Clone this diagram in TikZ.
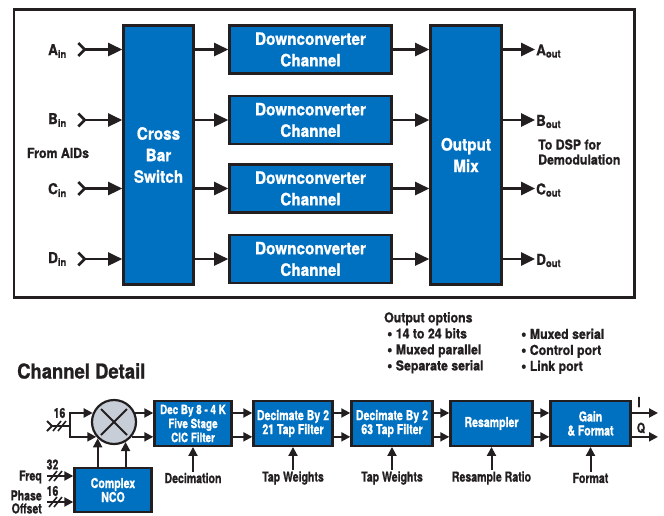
\documentclass[tikz,border=0pt]{standalone}
\usepackage{fontspec}
\setmainfont{TeX Gyre Heros}[FakeStretch=0.9, BoldFeatures={FakeBold=1}]
\newfontfamily\condfont{TeX Gyre Heros}[FakeStretch=0.77, BoldFeatures={FakeBold=1}]
\definecolor{chanblue}{RGB}{0, 112, 192}
\definecolor{inkgray}{RGB}{35, 31, 32}
\definecolor{mixgray}{RGB}{200, 206, 216}
\usetikzlibrary{arrows.meta}
\newcommand{\optbullet}{\smash{\raisebox{-0.1ex}{\fontsize{16.5}{16}\selectfont\textbullet}}\ }

\begin{document}
\begin{tikzpicture}[x=1pt, y=-1pt, inkgray,
  chanbox/.style={draw=inkgray, line width=2.6pt, fill=chanblue, text=white, align=center, inner sep=0pt,
    font=\fontsize{17}{21.5}\selectfont\bfseries},
  detbox/.style={draw=inkgray, line width=2.4pt, fill=chanblue, text=white, align=center, inner sep=0pt,
    minimum height=44.5pt, font=\condfont\fontsize{13.7}{14}\selectfont\bfseries},
  bigarrow/.style={line width=2.6pt, -{Triangle[length=14pt, width=13pt]}},
  smallarrow/.style={line width=2pt, -{Triangle[length=9pt, width=9pt]}},
  chevtail/.style={{Straight Barb[reversed, length=6.5pt, width=13pt]}-{Triangle[length=14pt, width=13pt]}},
  toplabel/.style={inner sep=1pt, font=\fontsize{13.7}{15}\selectfont\bfseries},
  botlabel/.style={inner sep=1pt, font=\condfont\fontsize{13.7}{14}\selectfont\bfseries},
  buslabel/.style={inner sep=0pt, font=\condfont\fontsize{13.7}{14}\selectfont\bfseries},
  busmark/.style={line width=1.6pt}]
  \useasboundingbox (0, 0) rectangle (664, 515);

  % Top: the channel block diagram
  \draw[line width=2.7pt] (14, 9.7) rectangle (634.3, 297.3);
  \node[chanbox, minimum width=70, minimum height=259] (cbs) at (158.5, 155) {Cross\\Bar\\Switch};
  \node[chanbox, minimum width=162, minimum height=48] (dc1) at (310.5, 49.5) {Downconverter\\Channel};
  \node[chanbox, minimum width=162, minimum height=48] (dc2) at (310.5, 120) {Downconverter\\Channel};
  \node[chanbox, minimum width=162, minimum height=48] (dc3) at (310.5, 188.5) {Downconverter\\Channel};
  \node[chanbox, minimum width=162, minimum height=48] (dc4) at (310.5, 259) {Downconverter\\Channel};
  \node[chanbox, minimum width=71, minimum height=259] (mix) at (466, 155) {Output\\Mix};

  \node[toplabel, font=\fontsize{15}{18}\selectfont\bfseries, anchor=east] (ain) at (68, 51) {A\textsubscript{in}};
  \node[toplabel, font=\fontsize{15}{18}\selectfont\bfseries, anchor=east] (bin) at (68, 120) {B\textsubscript{in}};
  \node[toplabel, font=\fontsize{15}{18}\selectfont\bfseries, anchor=east] (cin) at (68, 190) {C\textsubscript{in}};
  \node[toplabel, font=\fontsize{15}{18}\selectfont\bfseries, anchor=east] (din) at (68, 259) {D\textsubscript{in}};
  \node[toplabel] (aids) at (58, 153) {From AIDs};
  \coordinate (ina) at (77, 49.5);
  \coordinate (inb) at (77, 120);
  \coordinate (inc) at (77, 188.5);
  \coordinate (ind) at (77, 259);
  \draw[line width=2.6pt, chevtail] (ina) -- (ina -| cbs.west);
  \draw[line width=2.6pt, chevtail] (inb) -- (inb -| cbs.west);
  \draw[line width=2.6pt, chevtail] (inc) -- (inc -| cbs.west);
  \draw[line width=2.6pt, chevtail] (ind) -- (ind -| cbs.west);

  \draw[bigarrow] (cbs.east |- dc1) -- (dc1);
  \draw[bigarrow] (cbs.east |- dc2) -- (dc2);
  \draw[bigarrow] (cbs.east |- dc3) -- (dc3);
  \draw[bigarrow] (cbs.east |- dc4) -- (dc4);
  \draw[bigarrow] (dc1) -- (mix.west |- dc1);
  \draw[bigarrow] (dc2) -- (mix.west |- dc2);
  \draw[bigarrow] (dc3) -- (mix.west |- dc3);
  \draw[bigarrow] (dc4) -- (mix.west |- dc4);

  \node[toplabel, font=\fontsize{15}{18}\selectfont\bfseries, anchor=west] (aout) at (535, 51) {A\textsubscript{out}};
  \node[toplabel, font=\fontsize{15}{18}\selectfont\bfseries, anchor=west] (bout) at (535, 121.5) {B\textsubscript{out}};
  \node[toplabel, font=\fontsize{15}{18}\selectfont\bfseries, anchor=west] (cout) at (535, 190) {C\textsubscript{out}};
  \node[toplabel, font=\fontsize{15}{18}\selectfont\bfseries, anchor=west] (dout) at (535, 260.5) {D\textsubscript{out}};
  \node[toplabel, anchor=west, align=left] (dsp) at (537, 152) {To DSP for\\Demodulation};
  \draw[bigarrow] (mix.east |- dc1) -- (aout.west |- dc1);
  \draw[bigarrow] (mix.east |- dc2) -- (bout.west |- dc2);
  \draw[bigarrow] (mix.east |- dc3) -- (cout.west |- dc3);
  \draw[bigarrow] (mix.east |- dc4) -- (dout.west |- dc4);

  % Bottom: channel detail
  \node[inner sep=0pt, anchor=west, font=\fontsize{20.5}{24}\selectfont\bfseries] (cdet) at (17, 371) {Channel Detail};
  \node[inner sep=0pt, anchor=north west, align=left, font=\fontsize{13.7}{16}\selectfont\bfseries] (opts) at (384, 312)
    {Output options\\\hspace*{3pt}\optbullet 14 to 24 bits\\\hspace*{3pt}\optbullet Muxed parallel\\\hspace*{3pt}\optbullet Separate serial};
  \node[inner sep=0pt, anchor=north west, align=left, font=\fontsize{13.7}{16}\selectfont\bfseries] (optsb) at (521, 328.5)
    {\optbullet Muxed serial\\\optbullet Control port\\\optbullet Link port};

  \node[circle, draw=inkgray, line width=2.2pt, fill=mixgray, minimum size=44pt, inner sep=0pt] (mxr) at (114, 422) {};
  \draw[line width=2pt] ([shift={(-13, -13)}]mxr.center) -- ([shift={(13, 13)}]mxr.center);
  \draw[line width=2pt] ([shift={(-13, 13)}]mxr.center) -- ([shift={(13, -13)}]mxr.center);

  \node[detbox, minimum width=77, font=\condfont\fontsize{12.8}{14}\selectfont\bfseries] (cic) at (193, 423.5) {Dec By 8 - 4 K\\Five Stage\\CIC Filter};
  \node[detbox, minimum width=79] (deca) at (293, 423.5) {Decimate By 2\\21 Tap Filter};
  \node[detbox, minimum width=81] (decb) at (392, 423.5) {Decimate By 2\\63 Tap Filter};
  \node[detbox, minimum width=82] (rsmp) at (491.5, 423.5) {Resampler};
  \node[detbox, minimum width=80] (gain) at (590.5, 423.5) {Gain\\\& Format};
  \node[detbox, minimum width=77, minimum height=43.5] (nco) at (113, 490) {Complex\\NCO};

  % input split and bus widths
  \coordinate (inp) at (46, 426);
  \coordinate (spl) at (70, 426);
  \draw[line width=2pt, {Straight Barb[reversed, length=5pt, width=10pt]}-] (inp) -- (spl);
  \draw[smallarrow] (spl) -- (spl |- mxr.157) -- (mxr.157);
  \draw[smallarrow] (spl) -- (spl |- mxr.220) -- (mxr.220);
  \draw[busmark] (53, 431) -- (61, 421);
  \draw[busmark] (58, 431) -- (66, 421);
  \node[buslabel] (n16a) at (59.5, 413) {16};

  \coordinate (frq) at (47, 476);
  \coordinate (phs) at (47, 502);
  \draw[smallarrow] (frq) -- (frq -| nco.west);
  \draw[smallarrow] (phs) -- (phs -| nco.west);
  \draw[busmark] (49, 481) -- (57, 471);
  \draw[busmark] (54, 481) -- (62, 471);
  \draw[busmark] (49, 507) -- (57, 497);
  \draw[busmark] (54, 507) -- (62, 497);
  \node[buslabel] (n32) at (52.5, 464.5) {32};
  \node[buslabel] (n16b) at (52.5, 491) {16};
  \node[botlabel, anchor=east] (lfrq) at (43, 477) {Freq};
  \node[botlabel, anchor=east, align=right, font=\condfont\fontsize{13.7}{13}\selectfont\bfseries] (lphs) at (43, 502) {Phase\\Offset};

  \draw[smallarrow] (nco.north -| mxr.-135) -- (mxr.-135);
  \draw[smallarrow] (nco.north -| mxr.-60) -- (mxr.-60);
  \draw[smallarrow] (mxr.23) -- (mxr.23 -| cic.west);
  \draw[smallarrow] (mxr.-40) -- (mxr.-40 -| cic.west);

  \draw[smallarrow] (cic.east |- mxr.23) -- (deca.west |- mxr.23);
  \draw[smallarrow] (cic.east |- mxr.-40) -- (deca.west |- mxr.-40);
  \draw[smallarrow] (deca.east |- mxr.23) -- (decb.west |- mxr.23);
  \draw[smallarrow] (deca.east |- mxr.-40) -- (decb.west |- mxr.-40);
  \draw[smallarrow] (decb.east |- mxr.23) -- (rsmp.west |- mxr.23);
  \draw[smallarrow] (decb.east |- mxr.-40) -- (rsmp.west |- mxr.-40);
  \draw[smallarrow] (rsmp.east |- mxr.23) -- (gain.west |- mxr.23);
  \draw[smallarrow] (rsmp.east |- mxr.-40) -- (gain.west |- mxr.-40);

  \coordinate (iqout) at (658, 423.5);
  \draw[smallarrow] (gain.east |- mxr.23) -- (iqout |- mxr.23);
  \draw[smallarrow] (gain.east |- mxr.-40) -- (iqout |- mxr.-40);
  \node[buslabel] (li) at (639, 402) {I};
  \node[buslabel] (lq) at (641, 428) {Q};

  % control inputs below the chain
  \node[botlabel] (ldec) at (193, 478) {Decimation};
  \node[botlabel] (ltwa) at (293, 478) {Tap Weights};
  \node[botlabel] (ltwb) at (392, 478) {Tap Weights};
  \node[botlabel] (lrat) at (491.5, 478) {Resample Ratio};
  \node[botlabel] (lfmt) at (590.5, 478) {Format};
  \draw[smallarrow] (ldec) -- (cic);
  \draw[smallarrow] (ltwa) -- (deca);
  \draw[smallarrow] (ltwb) -- (decb);
  \draw[smallarrow] (lrat) -- (rsmp);
  \draw[smallarrow] (lfmt) -- (gain);
\end{tikzpicture}
\end{document}
